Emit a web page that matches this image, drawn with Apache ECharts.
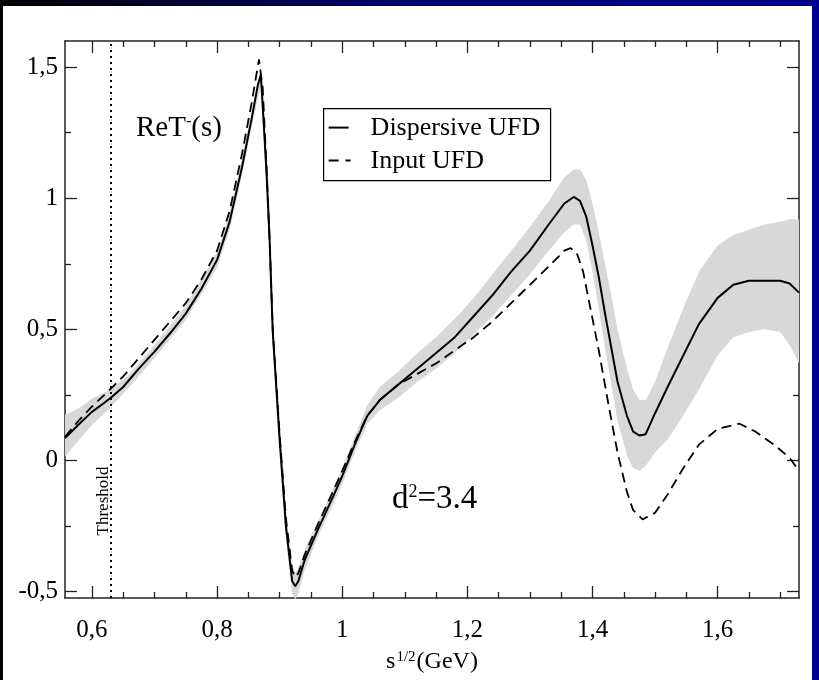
<!DOCTYPE html>
<html>
<head>
<meta charset="UTF-8">
<title>ReT-(s)</title>
<style>
  html, body { margin: 0; padding: 0; background: #fff; overflow: hidden; }
  #box { width: 819px; height: 680px; }
</style>
</head>
<body>
<div id="box"></div>
<script src="https://cdn.jsdelivr.net/npm/echarts@6/dist/echarts.min.js"></script>
<script>
// Dispersive UFD (solid)
var xDisp = [0.557, 0.58, 0.60, 0.62, 0.633, 0.65, 0.675, 0.70, 0.725, 0.75, 0.775, 0.80, 0.82, 0.84, 0.855, 0.865, 0.870,
  0.873, 0.879, 0.884, 0.889, 0.90, 0.91, 0.92, 0.925, 0.93, 0.94, 0.96, 0.985, 1.0, 1.02, 1.04, 1.06, 1.09, 1.12, 1.15,
  1.18, 1.21, 1.24, 1.27, 1.30, 1.33, 1.355, 1.37, 1.38, 1.39, 1.40, 1.41, 1.42, 1.43, 1.44, 1.455, 1.465, 1.475, 1.485,
  1.50, 1.52, 1.545, 1.57, 1.60, 1.625, 1.65, 1.675, 1.70, 1.715, 1.73];
var yDisp = [0.085, 0.14, 0.185, 0.22, 0.245, 0.28, 0.35, 0.415, 0.485, 0.56, 0.655, 0.765, 0.91, 1.12, 1.30, 1.43, 1.47,
  1.35, 1.10, 0.84, 0.49, 0.08, -0.25, -0.46, -0.48, -0.46, -0.38, -0.27, -0.14, -0.06, 0.06, 0.17, 0.23, 0.29, 0.35, 0.41,
  0.47, 0.55, 0.63, 0.72, 0.80, 0.90, 0.98, 1.005, 0.99, 0.93, 0.82, 0.70, 0.56, 0.43, 0.30, 0.17, 0.11, 0.095, 0.10,
  0.18, 0.28, 0.40, 0.52, 0.62, 0.67, 0.685, 0.685, 0.685, 0.675, 0.64];

// Input UFD (dashed)
var xInput = [0.557, 0.58, 0.60, 0.62, 0.633, 0.65, 0.675, 0.70, 0.725, 0.75, 0.775, 0.80, 0.82, 0.84, 0.855, 0.867,
  0.873, 0.879, 0.884, 0.889, 0.90, 0.91, 0.92, 0.925, 0.93, 0.94, 0.96, 0.985, 1.0, 1.02, 1.04, 1.06, 1.09, 1.12, 1.15,
  1.18, 1.21, 1.24, 1.27, 1.30, 1.33, 1.355, 1.365, 1.375, 1.385, 1.395, 1.41, 1.425, 1.44, 1.455, 1.465, 1.48, 1.50,
  1.52, 1.545, 1.57, 1.60, 1.635, 1.66, 1.69, 1.715, 1.73];
var yInput = [0.09, 0.155, 0.205, 0.25, 0.28, 0.32, 0.39, 0.46, 0.53, 0.60, 0.69, 0.80, 0.95, 1.17, 1.36, 1.53,
  1.42, 1.12, 0.84, 0.50, 0.10, -0.22, -0.42, -0.445, -0.43, -0.36, -0.25, -0.12, -0.04, 0.07, 0.17, 0.23, 0.29, 0.33, 0.37,
  0.42, 0.47, 0.53, 0.60, 0.67, 0.74, 0.80, 0.81, 0.79, 0.72, 0.60, 0.42, 0.22, 0.03, -0.12, -0.19, -0.225, -0.20,
  -0.13, -0.03, 0.06, 0.12, 0.14, 0.11, 0.06, 0.01, -0.04];

// error band of the dispersive curve
var xBand = [0.557, 0.58, 0.60, 0.633, 0.66, 0.70, 0.75, 0.80, 0.82, 0.84, 0.855, 0.870, 0.882, 0.889, 0.90, 0.91, 0.92,
  0.925, 0.93, 0.94, 0.96, 0.985, 1.0, 1.02, 1.04, 1.06, 1.09, 1.12, 1.15, 1.18, 1.21, 1.24, 1.27, 1.30, 1.33, 1.355,
  1.37, 1.38, 1.39, 1.40, 1.41, 1.42, 1.43, 1.44, 1.455, 1.465, 1.475, 1.485, 1.50, 1.52, 1.545, 1.57, 1.60, 1.625,
  1.65, 1.675, 1.70, 1.715, 1.73];
var bandLo = [0.015, 0.08, 0.135, 0.21, 0.28, 0.39, 0.535, 0.735, 0.88, 1.09, 1.27, 1.43, 0.92, 0.44, 0.03, -0.30, -0.51,
  -0.53, -0.51, -0.42, -0.30, -0.17, -0.09, 0.03, 0.14, 0.19, 0.24, 0.30, 0.35, 0.41, 0.48, 0.55, 0.63, 0.71, 0.80, 0.87,
  0.90, 0.90, 0.84, 0.72, 0.58, 0.43, 0.29, 0.15, 0.02, -0.03, -0.04, -0.02, 0.03, 0.08, 0.17, 0.27, 0.40, 0.47,
  0.49, 0.50, 0.49, 0.44, 0.37];
var bandHi = [0.175, 0.20, 0.235, 0.275, 0.33, 0.44, 0.59, 0.795, 0.94, 1.15, 1.33, 1.50, 1.08, 0.56, 0.14, -0.20, -0.40,
  -0.43, -0.41, -0.34, -0.24, -0.11, -0.03, 0.09, 0.21, 0.28, 0.34, 0.41, 0.47, 0.54, 0.62, 0.71, 0.80, 0.89, 0.99, 1.08,
  1.11, 1.11, 1.07, 0.98, 0.87, 0.75, 0.63, 0.50, 0.35, 0.27, 0.23, 0.23, 0.30, 0.43, 0.58, 0.72, 0.82, 0.86,
  0.88, 0.90, 0.91, 0.92, 0.92];

var threshold = 0.63;
var xMajor = [0.6, 0.8, 1.0, 1.2, 1.4, 1.6];
var xMinor = [0.65, 0.7, 0.75, 0.85, 0.9, 0.95, 1.05, 1.1, 1.15, 1.25, 1.3, 1.35, 1.45, 1.5, 1.55, 1.65, 1.7];
var yMajor = [-0.5, 0, 0.5, 1.0, 1.5];
var yMinor = [-0.25, 0.25, 0.75, 1.25];
var legendNames = ['Dispersive UFD', 'Input UFD'];

var serif = "'Liberation Serif', 'DejaVu Serif', serif";
var xMin = 0.557, xMax = 1.73, yMin = -0.525, yMax = 1.6;

function pairs(xs, ys) {
  var out = [];
  for (var i = 0; i < xs.length; i++) out.push([xs[i], ys[i]]);
  return out;
}
function comma(v) {
  return String(Math.round(v * 100) / 100).replace('.', ',');
}

var lineCol = '#222';
function axis(grid, pos, ticks, len, main, lo, hi) {
  return {
    type: 'value', gridIndex: grid, position: pos, min: lo, max: hi,
    axisLine: { show: main, onZero: false, lineStyle: { color: lineCol, width: 1.5 } },
    axisTick: { inside: true, length: len, customValues: ticks, lineStyle: { color: lineCol, width: 1.3 } },
    axisLabel: { show: false },
    splitLine: { show: false }
  };
}

var xBottom = axis(0, 'bottom', xMajor, 12, true, xMin, xMax);
xBottom.axisLabel = { show: true, customValues: xMajor, formatter: comma, fontFamily: serif, fontSize: 25, color: '#000', margin: 20 };
xBottom.name = '{s|s}{sup|1/2}{s|(GeV)}';
xBottom.nameLocation = 'middle';
xBottom.nameGap = 52;
xBottom.nameTextStyle = {
  rich: {
    s: { fontFamily: serif, fontSize: 24, color: '#000', verticalAlign: 'bottom' },
    sup: { fontFamily: serif, fontSize: 15, color: '#000', verticalAlign: 'top', padding: [0, 1, 0, 1] }
  }
};

var yLeft = axis(0, 'left', yMajor, 12, true, yMin, yMax);
yLeft.axisLabel = { show: true, customValues: yMajor, formatter: comma, fontFamily: serif, fontSize: 25, color: '#000', margin: 7 };

// hand-drawn legend box, solid and dashed samples
var legendGraphic = {
  type: 'group', left: 323, top: 108,
  children: [
    { type: 'rect', shape: { x: 0, y: 0, width: 227, height: 72 }, style: { fill: '#fff', stroke: '#000', lineWidth: 1.2 } },
    { type: 'line', shape: { x1: 5, y1: 19, x2: 25, y2: 19 }, style: { stroke: '#000', lineWidth: 2 } },
    { type: 'line', shape: { x1: 5, y1: 52, x2: 27, y2: 52 }, style: { stroke: '#000', lineWidth: 2, lineDash: [10, 7] } },
    { type: 'text', x: 47, y: 20, style: { text: legendNames[0], fontFamily: serif, fontSize: 26, fill: '#000', verticalAlign: 'middle' } },
    { type: 'text', x: 47, y: 53, style: { text: legendNames[1], fontFamily: serif, fontSize: 26, fill: '#000', verticalAlign: 'middle' } }
  ]
};

var myChart = echarts.init(document.getElementById('box'));

var option = {
  backgroundColor: '#fff',
  animation: false,
  grid: [
    { left: 65, right: 20, top: 41, bottom: 82 },
    { left: 65, right: 20, top: 41, bottom: 82 }
  ],
  xAxis: [xBottom, axis(0, 'top', xMajor, 12, true, xMin, xMax),
    axis(1, 'bottom', xMinor, 6, false, xMin, xMax), axis(1, 'top', xMinor, 6, false, xMin, xMax)],
  yAxis: [yLeft, axis(0, 'right', yMajor, 12, true, yMin, yMax),
    axis(1, 'left', yMinor, 6, false, yMin, yMax), axis(1, 'right', yMinor, 6, false, yMin, yMax)],
  graphic: [
    { type: 'rect', x: 0, y: 0, shape: { width: 819, height: 6 },
      style: { fill: new echarts.graphic.LinearGradient(0, 0, 1, 0, [
        { offset: 0, color: '#000' }, { offset: 0.5, color: '#000070' }, { offset: 1, color: '#00008e' }]) } },
    { type: 'rect', x: 0, y: 0, shape: { width: 3, height: 680 }, style: { fill: '#000' } },
    { type: 'rect', x: 812, y: 0, shape: { width: 7, height: 680 }, style: { fill: '#00008e' } },
    legendGraphic,
    { type: 'text', left: 136, top: 114,
      style: { text: '{a|ReT}{b|-}{a|(s)}', rich: {
        a: { fontFamily: serif, fontSize: 29, fill: '#000', verticalAlign: 'bottom' },
        b: { fontFamily: serif, fontSize: 16, fill: '#000', verticalAlign: 'top' } } } },
    { type: 'text', left: 392, top: 483,
      style: { text: '{a|d}{b|2}{a|=3.4}', rich: {
        a: { fontFamily: serif, fontSize: 33, fill: '#000', verticalAlign: 'bottom' },
        b: { fontFamily: serif, fontSize: 18, fill: '#000', verticalAlign: 'top' } } } },
    { type: 'text', x: 104, y: 501, rotation: Math.PI / 2,
      style: { text: 'Threshold', fontFamily: serif, fontSize: 17, fill: '#000', align: 'center', verticalAlign: 'middle' } }
  ],
  series: [
    {
      name: 'band', type: 'custom', xAxisIndex: 0, yAxisIndex: 0, z: 1, silent: true,
      data: xBand.map(function (x, i) { return [x, bandLo[i], bandHi[i]]; }),
      encode: { x: 0, y: [1, 2] },
      renderItem: function (params, api) {
        if (params.dataIndex !== 0) return;
        var pts = [];
        for (var i = 0; i < xBand.length; i++) pts.push(api.coord([xBand[i], bandHi[i]]));
        for (var j = xBand.length - 1; j >= 0; j--) pts.push(api.coord([xBand[j], bandLo[j]]));
        return { type: 'polygon', shape: { points: pts }, style: { fill: '#d8d8d8' } };
      }
    },
    {
      name: legendNames[0], type: 'line', xAxisIndex: 0, yAxisIndex: 0, z: 3,
      data: pairs(xDisp, yDisp), showSymbol: false, symbol: 'none',
      lineStyle: { color: '#000', width: 2 },
      markLine: {
        silent: true, symbol: ['none', 'none'], label: { show: false },
        lineStyle: { color: '#000', type: [2, 4], width: 2 },
        data: [{ xAxis: threshold }]
      }
    },
    {
      name: legendNames[1], type: 'line', xAxisIndex: 0, yAxisIndex: 0, z: 3,
      data: pairs(xInput, yInput), showSymbol: false, symbol: 'none',
      lineStyle: { color: '#000', width: 1.8, type: [10, 6] }
    }
  ]
};
myChart.setOption(option);
</script>
</body>
</html>
